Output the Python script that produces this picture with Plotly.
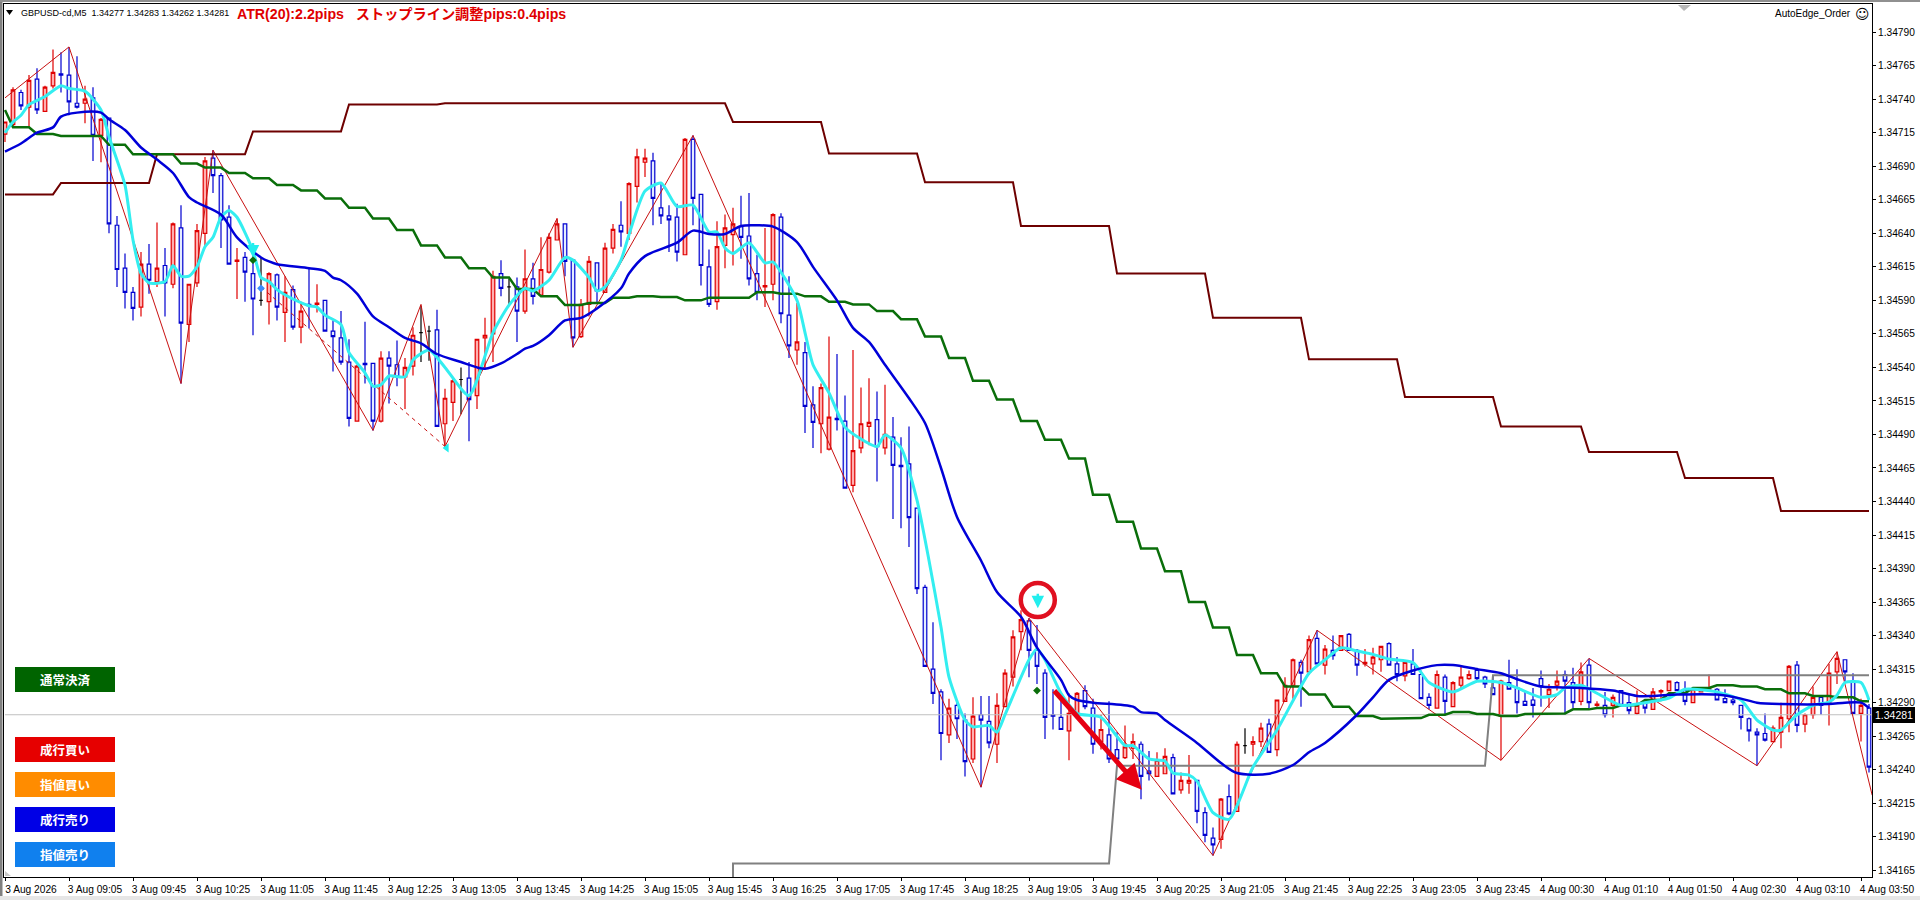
import plotly.graph_objects as go

PRICE_BASE = 1.34   # all series below are in 0.00001 above this base
PT = 1e-5

open_pts = [714,721,745,734,755,731,750,759,758,737,
 737,741,713,726,646,614,596,585,617,604,
 616,602,644,572,603,640,696,683,652,619,
 622,610,590,589,609,581,598,570,587,587,
 590,567,562,544,500,543,543,500,547,542,
 533,541,566,567,568,498,514,531,532,519,
 562,565,610,600,600,582,606,594,611,635,
 647,620,563,587,618,596,629,646,640,675,
 693,694,659,653,652,624,710,669,615,589,
 631,639,645,638,610,600,602,652,579,553,
 551,512,498,479,502,500,452,480,496,501,
 480,488,467,468,435,376,315,298,266,288,
 277,248,281,276,259,287,309,343,351,329,
 312,281,279,269,282,299,286,261,266,255,
 249,256,259,239,235,237,249,225,230,232,
 208,189,188,220,209,258,259,261,274,255,
 291,303,320,313,338,318,329,329,341,329,
 319,319,322,334,319,310,319,311,294,286,
 309,287,303,308,314,309,301,280,305,301,
 291,292,308,296,303,311,305,291,318,288,
 288,288,299,290,282,290,285,298,299,305,
 299,290,298,300,300,293,292,288,278,268,
 267,261,268,278,318,274,281,294,290,313,
 322,306,282,286]
high_pts = [723,749,747,758,763,750,777,775,779,772,
 750,749,726,726,653,625,600,626,632,648,
 629,648,661,602,647,697,702,685,661,629,
 626,625,622,611,610,608,601,589,614,602,
 590,575,582,561,542,574,543,552,552,560,
 547,570,586,571,583,524,532,540,544,561,
 577,612,620,606,607,628,618,637,640,651,
 647,620,591,623,618,633,647,664,678,703,
 703,700,677,661,662,711,713,669,628,649,
 654,659,668,670,624,644,655,655,608,588,
 559,526,528,563,550,519,553,525,532,522,
 527,503,488,496,435,378,350,300,293,292,
 282,294,295,295,297,315,344,359,353,348,
 315,300,296,297,298,303,293,281,291,268,
 273,267,261,254,253,256,252,238,251,232,
 212,197,219,229,261,271,265,275,278,292,
 309,323,322,340,344,333,340,340,342,330,
 330,331,332,335,324,320,330,314,297,314,
 311,306,317,314,316,310,310,307,322,315,
 299,301,314,304,314,314,316,320,323,291,
 298,296,299,296,299,291,301,300,306,306,
 306,300,301,311,301,300,294,288,279,271,
 282,273,290,318,321,282,302,294,319,328,
 322,312,293,289]
low_pts = [708,720,732,719,729,731,748,745,728,733,
 722,694,693,640,600,584,575,578,595,600,
 578,599,528,559,600,630,670,629,617,591,
 589,564,586,572,575,559,568,558,569,581,
 567,537,542,496,500,528,493,499,513,526,
 509,534,544,545,496,481,500,505,485,509,
 539,544,593,587,559,580,587,593,610,635,
 608,555,562,578,588,596,625,630,635,663,
 682,646,647,626,619,624,646,601,585,583,
 614,616,621,601,590,585,590,573,547,542,
 491,480,476,478,493,450,447,476,482,455,
 475,427,420,406,371,317,289,247,260,263,
 235,245,227,256,245,287,302,329,309,304,
 263,270,270,247,282,285,252,255,245,247,
 248,248,218,232,235,237,222,222,222,200,
 186,176,181,206,209,252,250,257,253,250,
 291,293,287,311,319,311,322,329,329,310,
 317,311,313,318,306,306,311,293,285,286,
 281,287,301,307,306,301,296,247,300,282,
 288,279,287,286,299,281,286,288,286,287,
 279,279,287,281,281,282,285,292,299,299,
 288,290,298,300,292,290,288,270,261,243,
 261,261,256,268,268,268,278,281,273,304,
 306,282,261,238]
close_pts = [723,747,735,754,732,749,760,758,738,734,
 740,713,725,647,613,596,584,617,605,614,
 603,647,573,602,642,694,683,650,617,620,
 611,591,590,610,585,596,570,582,586,588,
 567,563,544,502,541,542,500,547,541,533,
 540,564,566,567,496,517,530,531,516,561,
 564,608,599,600,582,606,593,613,637,647,
 619,562,587,619,597,629,643,641,677,697,
 696,666,653,650,626,710,666,616,587,630,
 644,647,637,606,596,601,654,580,556,559,
 511,499,525,503,501,450,478,498,499,481,
 490,467,466,428,375,317,297,267,286,278,
 246,280,277,260,288,312,339,352,329,317,
 279,280,270,282,297,287,259,270,248,248,
 257,261,235,237,247,250,222,232,232,209,
 191,184,218,207,259,258,261,271,253,292,
 303,322,312,337,319,330,325,340,329,318,
 320,324,332,318,311,320,311,293,288,311,
 291,305,309,311,308,304,296,306,300,290,
 288,288,302,300,306,306,290,313,290,289,
 281,294,288,284,288,286,298,299,306,299,
 291,300,301,301,292,290,290,279,269,266,
 262,271,279,317,273,281,294,288,312,323,
 313,282,288,242]

# stepped stop line: first bar of each level and the level
stop_start = [0,7,19,31,43,55,91,103,115,127,139,151,163,175,187,198,210,222]
stop_level = [669,677.5,699,716,736,737,723,699.5,678,645.5,610,577,546,518,496,477,457.5,433]

# stepped green line
green_start = [0,1,4,7,13,16,22,25,28,31,34,37,40,43,46,49,52,55,58,61,64,67,70,73,76,79,82,85,88,91,94,97,
 100,103,106,109,112,115,118,121,124,127,130,133,136,139,142,145,148,151,154,157,160,163,166,169,172,175,178,
 181,184,187,190,193,196,199,202,205,208,211,214,217,220,223,226,229,232]
green_level = [732,719,714,712.6,706,699,692,689,685,681,676,672,666,659,651,642.5,631,622,614,607,598.5,593,586.5,588,592,593,592.5,590,592,592,596,595,
 593,589,587,582,576,563,547,530,516,500,486,472,445,425,405,388,365,346,325.5,312,302,296,287,280,278,278.5,281,
 283,281.5,280,281.5,282,285,286,288,292,297,301,303,302,300,297,295,294,291]

blue_bar = [0,2,4,6,7,9,12,13,15,17,19,21,23,24,27,29,32,33,34,38,40,41,42,44,46,48,50,52,54,57,59,60,62,64,65,66,68,70,72,74,77,78,80,84,86,88,90,92,94,96,99,101,
 104,106,108,110,113,115,117,119,122,124,127,129,132,133,134,136,141,142,144,145,149,152,154,158,161,163,165,169,171,173,176,179,181,184,187,189,192,194,197,201,204,206,209,214,217,219,222,228,230,232,233]
blue_val = [701,707,715,719,727,730,730,725,717,704,695,685,667,663,654,637,622,619,617,614,612,607,605,595,578,570,562,558,550,544,540,539,543,550,554,556,564,575,577,584,599,610,623,633,642,639.5,639.5,645.5,646,645,633.5,615,
 590,569.5,559,542,517,498.5,465,428.5,396,372.5,354,331,307,295.5,292,290,287,283,282,277,260,245,237.5,237,243.5,253,260,281,294,307,314,318,318,315,312,307.5,302,301.5,301,299,295,295,296,296,293,290,289,289,290,290,286]

cyan_bar = [0,1,2,3,5,7,8,10,12,13,15,16,17,18,20,21,22,23,24,25,26,27,28,29,31,32,33,34,36,38,39,40,42,43,45,46,47,48,50,51,53,55,58,61,63,65,66,68,70,71,73,74,75,77,78,80,82,84,86,88,89,90,91,93,95,96,99,100,101,103,105,107,109,110,112,114,115.5,117,118,120,121,123,124,125,128,129,130,132,134,137,140,141,143,145,146,148,149,151,153,156,159,163,165,167,169,171,173,176,178,181,184,187,189,192,194,195,197,199,202,205,208,210,214,217,219,221,222,224,226,228,229,230,232,233]
cyan_val = [715,723,728,736,742,750,748,746,732,712,676,635,610,603,604,616,608,608,615,630,637,652,657,652,627,607,604,598,591,586,585,579,572,551,536,526,527,533.6,533,545.5,553,540,519,566,586.5,599,597,605,622,620,607,597,600,620,639,671.5,677.5,660,661,641,641,629,625,633,618,618.6,590,566,542,521,495.5,486.6,481,489.6,480,441,396,346.4,309,277,272,273,268,281,322,330,322,297,282,279,258,258,248,246.5,237.5,236,231.5,208,203,242,269.6,312,322,331,328.5,326,322.5,320,305,298,306,305,301,294,296,301,303,297,288,290,293.5,300,298,292,277,269.6,269.6,281,288,290.5,295.6,305,305,292]

zigzag_bar = [0,8,22,26,46,52,55,69,71,86,122,128,151,164,187,198,219,229,233.4]
zigzag_val = [741,779,528,702,493,587,481,651,555,713,227,353,176,344,247,323,243,328,221]
dash_bar = [32,55]
dash_val = [600,481]

grey_bar = [91,91,138,139,185,186,233]
grey_val = [150,170,170,243,243,310.5,310.5]

current_price = 281
arrow_from = (131, 300)
arrow_to = (142.1, 225)
signal_bar, signal_val = 129.1, 366.5
signal_tips = [(129.1, 360.5), (31, 622)]
green_marks_bar, green_marks_val = [31, 129], [620, 299]
skyblue_mark = (32, 599)
cyan_triangle = (55.2, 480)

x_tick_bars = list(range(0, 233, 8))
x_tick_labels = ["3 Aug 2026","3 Aug 09:05","3 Aug 09:45","3 Aug 10:25","3 Aug 11:05","3 Aug 11:45","3 Aug 12:25",
 "3 Aug 13:05","3 Aug 13:45","3 Aug 14:25","3 Aug 15:05","3 Aug 15:45","3 Aug 16:25","3 Aug 17:05","3 Aug 17:45",
 "3 Aug 18:25","3 Aug 19:05","3 Aug 19:45","3 Aug 20:25","3 Aug 21:05","3 Aug 21:45","3 Aug 22:25","3 Aug 23:05",
 "3 Aug 23:45","4 Aug 00:30","4 Aug 01:10","4 Aug 01:50","4 Aug 02:30","4 Aug 03:10","4 Aug 03:50"]
y_tick_pts = list(range(165, 791, 25))

buttons = [("通常決済", 667, "#006400"), ("成行買い", 737, "#E60000"), ("指値買い", 772, "#FF8C00"),
           ("成行売り", 807, "#0000E6"), ("指値売り", 842, "#1080EE")]

W, H = 1920, 900
L, R, T, B = 4, 1872, 4, 877
FONT = "Liberation Sans, sans-serif"
CJK = "Noto Sans CJK JP"

def p(v):
    return None if v is None else PRICE_BASE + v * PT
def ps(vals):
    return [p(v) for v in vals]
def steps(starts, levels, last):
    xs, ys = [], []
    for k, s in enumerate(starts):
        end = starts[k + 1] - 1 if k + 1 < len(starts) else last
        xs += [s, end]
        ys += [levels[k], levels[k]]
    return xs, ps(ys)
def px(x):
    return (x - L) / (R - L)
def py(y):
    return (B - y) / (B - T)

n = len(open_pts)
bars = list(range(n))
is_doji = [o == c for o, c in zip(open_pts, close_pts)]
pick = lambda arr, want: [a if d == want else None for a, d in zip(arr, is_doji)]

fig = go.Figure()
fig.add_trace(go.Candlestick(x=bars, open=ps(pick(open_pts, False)), high=ps(pick(high_pts, False)),
    low=ps(pick(low_pts, False)), close=ps(pick(close_pts, False)),
    increasing=dict(line=dict(color="#E00000", width=1.2), fillcolor="#FFAFAF"),
    decreasing=dict(line=dict(color="#0000D0", width=1.2), fillcolor="#E4ECFF"), showlegend=False))
fig.add_trace(go.Candlestick(x=bars, open=ps(pick(open_pts, True)), high=ps(pick(high_pts, True)),
    low=ps(pick(low_pts, True)), close=ps(pick(close_pts, True)),
    increasing=dict(line=dict(color="black", width=1.2), fillcolor="black"),
    decreasing=dict(line=dict(color="black", width=1.2), fillcolor="black"), showlegend=False))

fig.add_trace(go.Scatter(x=[bars[0], bars[-1] + 1], y=ps([current_price] * 2), mode="lines",
                         line=dict(color="#C0C0C0", width=1), showlegend=False))
fig.add_trace(go.Scatter(x=zigzag_bar, y=ps(zigzag_val), mode="lines", line=dict(color="#C81010", width=1), showlegend=False))
fig.add_trace(go.Scatter(x=dash_bar, y=ps(dash_val), mode="lines", line=dict(color="#C81010", width=1, dash="4px,4px"), showlegend=False))
fig.add_trace(go.Scatter(x=grey_bar, y=ps(grey_val), mode="lines", line=dict(color="#808080", width=2), showlegend=False))
sx, sy = steps(stop_start, stop_level, n - 1)
fig.add_trace(go.Scatter(x=sx, y=sy, mode="lines", line=dict(color="#6E0000", width=2), showlegend=False))
gx, gy = steps(green_start, green_level, n - 1)
fig.add_trace(go.Scatter(x=gx, y=gy, mode="lines", line=dict(color="#0A6E0A", width=2.5), showlegend=False))
fig.add_trace(go.Scatter(x=cyan_bar, y=ps(cyan_val), mode="lines", line=dict(color="#33EEF0", width=3, shape="spline", smoothing=0.6), showlegend=False))
fig.add_trace(go.Scatter(x=blue_bar, y=ps(blue_val), mode="lines", line=dict(color="#0000D8", width=2.5, shape="spline", smoothing=0.8), showlegend=False))

# signal ring and small markers
fig.add_trace(go.Scatter(x=[signal_bar], y=[p(signal_val)], mode="markers",
    marker=dict(symbol="circle-open", size=34, color="#E01020", line=dict(width=4.5, color="#E01020")), showlegend=False))
fig.add_trace(go.Scatter(x=green_marks_bar, y=ps(green_marks_val), mode="markers",
    marker=dict(symbol="diamond", size=6, color="#0A6E0A"), showlegend=False))
fig.add_trace(go.Scatter(x=[skyblue_mark[0]], y=[p(skyblue_mark[1])], mode="markers",
    marker=dict(symbol="diamond", size=6, color="#3A8CFF"), showlegend=False))
fig.add_trace(go.Scatter(x=[cyan_triangle[0]], y=[p(cyan_triangle[1])], mode="markers",
    marker=dict(symbol="triangle-left", size=8, color="#22EEEE"), showlegend=False))

ann = []
# diagonal red arrow
ann.append(dict(x=arrow_to[0], y=p(arrow_to[1]), ax=arrow_from[0], ay=p(arrow_from[1]), xref="x", yref="y", axref="x", ayref="y",
    text="", showarrow=True, arrowhead=2, arrowsize=1, arrowwidth=5, arrowcolor="#E60012"))
# cyan down arrows
for tip_bar, tip_val in signal_tips:
    ann.append(dict(x=tip_bar, y=p(tip_val), xref="x", yref="y", ax=0, ay=-16, text="", showarrow=True,
                    arrowhead=2, arrowsize=1, arrowwidth=2.5, arrowcolor="#22EEEE"))

def text(x, y, s, size, color="black", family=FONT, anchor="left", **kw):
    ann.append(dict(x=px(x), y=py(y), xref="paper", yref="paper", text=s, showarrow=False, xanchor=anchor, yanchor="middle",
                    font=dict(size=size, color=color, family=family), **kw))

text(19, 13, "GBPUSD-cd,M5  1.34277 1.34283 1.34262 1.34281", 9)
text(235, 14.5, "<b>ATR(20):2.2pips   ストップライン調整pips:0.4pips</b>", 14.2, color="#E00000", family="Liberation Sans, Noto Sans CJK JP")
text(1853, 14, "AutoEdge_Order", 10, anchor="right")
text(1862, 14, "☺", 14, anchor="center", family="DejaVu Sans")
text(1894, 714.5, "1.34281", 10.5, color="white", anchor="center", bgcolor="black", borderpad=1, bordercolor="black")

shapes = []
def path_shape(path, color):
    shapes.append(dict(type="path", xref="paper", yref="paper", path=path, fillcolor=color, line=dict(width=0), layer="above"))

for label, top, col in buttons:
    shapes.append(dict(type="rect", xref="paper", yref="paper", x0=px(15), x1=px(115), y0=py(top), y1=py(top + 25),
                       fillcolor=col, line=dict(width=0), layer="above"))
    text(65, top + 12.5, f"<b>{label}</b>", 12.5, color="white", family=CJK, anchor="center")

# window edges and corner glyphs
def tri(points):
    return "M " + " L ".join(f"{px(a)},{py(b)}" for a, b in points) + " Z"
path_shape(tri([(1678, 5), (1691, 5), (1684, 11)]), "#B8B8B8")
path_shape(tri([(5, 871), (5, 876), (11, 876)]), "#C8C8C8")
path_shape(tri([(6, 10), (13, 10), (9.5, 15)]), "black")
shapes += [
    dict(type="rect", xref="paper", yref="paper", x0=px(0), x1=px(2.5), y0=py(0), y1=py(900), fillcolor="#808080", line=dict(width=0), layer="above"),
    dict(type="rect", xref="paper", yref="paper", x0=px(0), x1=px(1920), y0=py(0), y1=py(2), fillcolor="#909090", line=dict(width=0), layer="above"),
    dict(type="rect", xref="paper", yref="paper", x0=px(0), x1=px(1920), y0=py(896), y1=py(900), fillcolor="#E6E6E6", line=dict(width=0), layer="above"),
]

fig.update_layout(width=W, height=H, margin=dict(l=L, r=W - R, t=T, b=H - B), paper_bgcolor="white", plot_bgcolor="white",
    showlegend=False, annotations=ann, shapes=shapes, hovermode=False, boxgap=0.36,
    font=dict(family=FONT, size=10.5, color="black"),
    xaxis=dict(range=[-0.125, 233.375], tickmode="array", tickvals=x_tick_bars, ticktext=x_tick_labels, ticks="outside", ticklen=3,
               tickcolor="black", showgrid=False, zeroline=False, showline=True, linecolor="black", linewidth=1, mirror=True,
               rangeslider=dict(visible=False), ticklabelshift=26, tickangle=0, tickfont=dict(size=10.2, family=FONT), automargin=False),
    yaxis=dict(range=[p(160), p(811)], side="right", tickmode="array", tickvals=ps(y_tick_pts), tickformat=".5f", ticks="outside", ticklen=3,
               tickcolor="black", showgrid=False, zeroline=False, showline=True, linecolor="black", linewidth=1, mirror=True,
               tickfont=dict(size=10.2, family=FONT), automargin=False))

fig.write_html("out.html", config=dict(displayModeBar=False), post_script="document.body.style.margin='0';")
